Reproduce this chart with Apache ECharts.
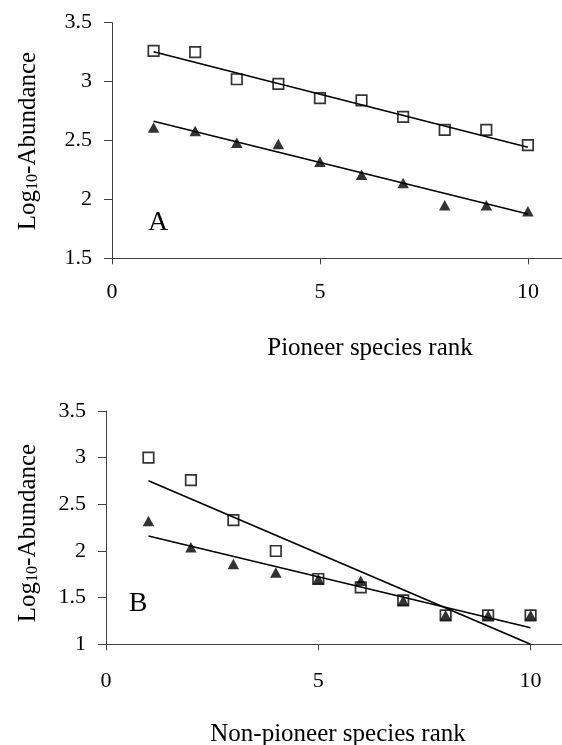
<!DOCTYPE html>
<html><head><meta charset="utf-8">
<script src="https://cdn.jsdelivr.net/npm/echarts@6/dist/echarts.min.js"></script>
<style>html,body{margin:0;padding:0;background:#fff}#c{width:562px;height:745px}</style>
</head><body><div id="c"></div>
<script>
// ---- data ----
const ranks = [1, 2, 3, 4, 5, 6, 7, 8, 9, 10];
// Panel A: pioneer species
const pioneerOpen = [3.26, 3.25, 3.02, 2.98, 2.86, 2.84, 2.70, 2.59, 2.59, 2.46];
const pioneerFilled = [2.61, 2.58, 2.48, 2.47, 2.32, 2.21, 2.14, 1.95, 1.95, 1.90];
// Panel B: non-pioneer species
const nonPioneerOpen = [3.00, 2.76, 2.33, 2.00, 1.70, 1.61, 1.47, 1.31, 1.31, 1.31];
const nonPioneerFilled = [2.32, 2.04, 1.86, 1.77, 1.70, 1.68, 1.47, 1.31, 1.31, 1.31];
// Trend lines (end points)
const trendX = [1, 10];
const pioneerOpenTrend = [3.254, 2.442];
const pioneerFilledTrend = [2.663, 1.876];
const nonPioneerOpenTrend = [2.753, 1.0];
const nonPioneerFilledTrend = [2.160, 1.178];
// Tick labels
const xTicks = [0, 5, 10];
const yTicksA = [1.5, 2, 2.5, 3, 3.5];
const yTicksB = [1, 1.5, 2, 2.5, 3, 3.5];
const xTitleA = 'Pioneer species rank';
const xTitleB = 'Non-pioneer species rank';

// ---- build ----
const FONT = '"Liberation Serif", "Times New Roman", serif';
const pairs = (xs, ys) => xs.map((x, i) => [x, ys[i]]);
const AXIS_COLOR = '#404040';

function xAxisFor(gridIndex, max, margin) {
  return {
    type: 'value', gridIndex, min: 0, max, interval: 5,
    axisLine: {show: true, onZero: false, lineStyle: {color: AXIS_COLOR, width: 1}},
    axisTick: {show: true, length: 6, customValues: xTicks, lineStyle: {color: AXIS_COLOR}},
    axisLabel: {customValues: xTicks, color: '#000', fontFamily: FONT, fontSize: 22, margin},
    splitLine: {show: false}
  };
}
function yAxisFor(gridIndex, ticks) {
  return {
    type: 'value', gridIndex, min: ticks[0], max: ticks[ticks.length - 1], interval: 0.5,
    axisLine: {show: true, onZero: false, lineStyle: {color: AXIS_COLOR, width: 1}},
    axisTick: {show: true, length: 8, lineStyle: {color: AXIS_COLOR}},
    axisLabel: {color: '#000', fontFamily: FONT, fontSize: 22, margin: 20},
    splitLine: {show: false}
  };
}
const openSym = {symbol: 'rect', symbolSize: 10.5,
  itemStyle: {color: '#fff', borderColor: '#000', borderWidth: 1.7}};
const filledSym = {symbol: 'triangle', symbolSize: [11.5, 10.5],
  itemStyle: {color: '#000'}};
function scatter(idx, ys, sym, z) {
  return Object.assign({type: 'scatter', xAxisIndex: idx, yAxisIndex: idx,
    data: pairs(ranks, ys), z, silent: true}, sym);
}
function trend(idx, ys) {
  return {type: 'line', xAxisIndex: idx, yAxisIndex: idx, data: pairs(trendX, ys),
    showSymbol: false, symbol: 'none', z: 5, silent: true,
    lineStyle: {color: '#000', width: 1.6}};
}
const yName = (y) => ({
  type: 'text', x: 28, y, rotation: Math.PI / 2,
  style: {
    text: '{a|Log}{b|10}{a|-Abundance}', align: 'center', verticalAlign: 'middle',
    rich: {
      a: {fontFamily: FONT, fontSize: 25, fill: '#000'},
      b: {fontFamily: FONT, fontSize: 16, fill: '#000', verticalAlign: 'bottom'}
    }
  }
});
const plainText = (text, x, y, size) => ({
  type: 'text', x, y,
  style: {text, fontFamily: FONT, fontSize: size, fill: '#000', align: 'center', verticalAlign: 'middle'}
});

const option = {
  animation: false,
  backgroundColor: '#fff',
  grid: [
    {left: 112, top: 22.7, width: 450, height: 235.6},
    {left: 106, top: 411, width: 456, height: 233.3}
  ],
  xAxis: [xAxisFor(0, 10.82, 23), xAxisFor(1, 10.74, 26)],
  yAxis: [yAxisFor(0, yTicksA), yAxisFor(1, yTicksB)],
  series: [
    scatter(0, pioneerOpen, openSym, 2),
    scatter(0, pioneerFilled, filledSym, 3),
    trend(0, pioneerOpenTrend),
    trend(0, pioneerFilledTrend),
    scatter(1, nonPioneerOpen, openSym, 2),
    scatter(1, nonPioneerFilled, filledSym, 3),
    trend(1, nonPioneerOpenTrend),
    trend(1, nonPioneerFilledTrend)
  ],
  graphic: [
    yName(141),
    yName(533),
    plainText(xTitleA, 370, 348, 25),
    plainText(xTitleB, 338, 734, 25),
    plainText('A', 158, 223, 28),
    plainText('B', 138, 604, 28)
  ]
};
const chart = echarts.init(document.getElementById('c'), null, {renderer: 'canvas'});
chart.setOption(option);
</script>
</body></html>
